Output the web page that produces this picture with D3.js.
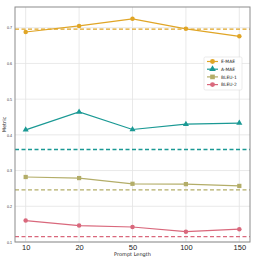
<!DOCTYPE html>
<html>
<head>
<meta charset="utf-8">
<script src="https://cdn.jsdelivr.net/npm/d3@7"></script>
<style>
  body { margin: 0; background: #fff; }
  svg { display: block; font-family: "DejaVu Sans", sans-serif; }
</style>
</head>
<body>
<div id="vis"></div>
<script>
// prompt lengths (categorical, evenly spaced)
const promptLengths = ["10", "20", "50", "100", "150"];
const eMae  = [0.688, 0.705, 0.725, 0.697, 0.676];
const aMae  = [0.414, 0.464, 0.415, 0.430, 0.433];
const bleu1 = [0.282, 0.279, 0.263, 0.262, 0.257];
const bleu2 = [0.160, 0.146, 0.142, 0.129, 0.136];
// dashed baselines
const baselines = [0.696, 0.359, 0.246, 0.115];
const yTicks = [0.1, 0.2, 0.3, 0.4, 0.5, 0.6, 0.7];

const series = [
  { name: "E-MAE",  values: eMae,  color: "#e0a526", symbol: d3.symbolCircle,   size: 16 },
  { name: "A-MAE",  values: aMae,  color: "#1a9994", symbol: d3.symbolTriangle, size: 16 },
  { name: "BLEU-1", values: bleu1, color: "#b3ad68", symbol: d3.symbolSquare,   size: 18 },
  { name: "BLEU-2", values: bleu2, color: "#d9687c", symbol: d3.symbolCircle,   size: 16 },
];

const W = 258, H = 258;
const margin = { top: 7, right: 8, bottom: 16, left: 15 };

const svg = d3.select("#vis").append("svg")
  .attr("width", W).attr("height", H);

const x = d3.scaleLinear().domain([-0.2, promptLengths.length - 0.8])
  .range([margin.left, W - margin.right]);
const y = d3.scaleLinear().domain([0.1, 0.758])
  .range([H - margin.bottom, margin.top]);

// grid
svg.append("g").selectAll("line.gx").data(promptLengths).enter().append("line")
  .attr("x1", (d, i) => x(i)).attr("x2", (d, i) => x(i))
  .attr("y1", y.range()[1]).attr("y2", y.range()[0])
  .attr("stroke", "#e3e3e3").attr("stroke-width", 0.8);
svg.append("g").selectAll("line.gy").data(yTicks).enter().append("line")
  .attr("x1", x.range()[0]).attr("x2", x.range()[1])
  .attr("y1", d => y(d)).attr("y2", d => y(d))
  .attr("stroke", "#e3e3e3").attr("stroke-width", 0.8);

// baselines
svg.append("g").selectAll("line").data(baselines).enter().append("line")
  .attr("x1", x.range()[0]).attr("x2", x.range()[1])
  .attr("y1", d => y(d)).attr("y2", d => y(d))
  .attr("stroke", (d, i) => series[i].color)
  .attr("stroke-width", 1.3)
  .attr("stroke-dasharray", "4,2.5");

// lines + markers
const line = d3.line().x((d, i) => x(i)).y(d => y(d));
series.forEach(s => {
  const g = svg.append("g");
  g.append("path").datum(s.values)
    .attr("d", line).attr("fill", "none")
    .attr("stroke", s.color).attr("stroke-width", 1.2);
  g.selectAll("path.m").data(s.values).enter().append("path")
    .attr("class", "m")
    .attr("d", d3.symbol().type(s.symbol).size(s.size))
    .attr("transform", (d, i) => `translate(${x(i)},${y(d)})`)
    .attr("fill", s.color);
});

// frame
svg.append("rect")
  .attr("x", x.range()[0]).attr("y", y.range()[1])
  .attr("width", x.range()[1] - x.range()[0])
  .attr("height", y.range()[0] - y.range()[1])
  .attr("fill", "none").attr("stroke", "#8c8c8c").attr("stroke-width", 1);

// axes
const xAxis = svg.append("g")
  .attr("transform", `translate(0,${y.range()[0]})`)
  .call(d3.axisBottom(x).tickValues(d3.range(promptLengths.length))
    .tickFormat(i => promptLengths[i]).tickSize(0).tickPadding(3));
xAxis.select(".domain").remove();
xAxis.selectAll("text").attr("font-size", 7.5).attr("fill", "#222");

const yAxis = svg.append("g")
  .attr("transform", `translate(${x.range()[0]},0)`)
  .call(d3.axisLeft(y).tickValues(yTicks).tickFormat(d3.format(".1f"))
    .tickSize(0).tickPadding(3));
yAxis.select(".domain").remove();
yAxis.selectAll("text").attr("font-size", 3.6).attr("fill", "#333");

svg.append("text")
  .attr("x", (x.range()[0] + x.range()[1]) / 2).attr("y", H - 2)
  .attr("text-anchor", "middle").attr("font-size", 5).attr("fill", "#222")
  .text("Prompt Length");
svg.append("text")
  .attr("transform", `translate(6,${(y.range()[0] + y.range()[1]) / 2}) rotate(-90)`)
  .attr("text-anchor", "middle").attr("font-size", 5).attr("fill", "#222")
  .text("Metric");

// legend
const lg = svg.append("g").attr("transform", "translate(204,57)");
lg.append("rect").attr("width", 38).attr("height", 33).attr("rx", 1.5)
  .attr("fill", "#fff").attr("fill-opacity", 0.85)
  .attr("stroke", "#ddd").attr("stroke-width", 0.6);
series.forEach((s, i) => {
  const row = lg.append("g").attr("transform", `translate(3,${4.5 + i * 7.7})`);
  row.append("line").attr("x1", 0).attr("x2", 11)
    .attr("stroke", s.color).attr("stroke-width", 1.2);
  row.append("path").attr("d", d3.symbol().type(s.symbol).size(s.size * 1.2))
    .attr("transform", "translate(5.5,0)").attr("fill", s.color);
  row.append("text").attr("x", 14).attr("y", 1.6)
    .attr("font-size", 4.4).attr("fill", "#222").text(s.name);
});
</script>
</body>
</html>
